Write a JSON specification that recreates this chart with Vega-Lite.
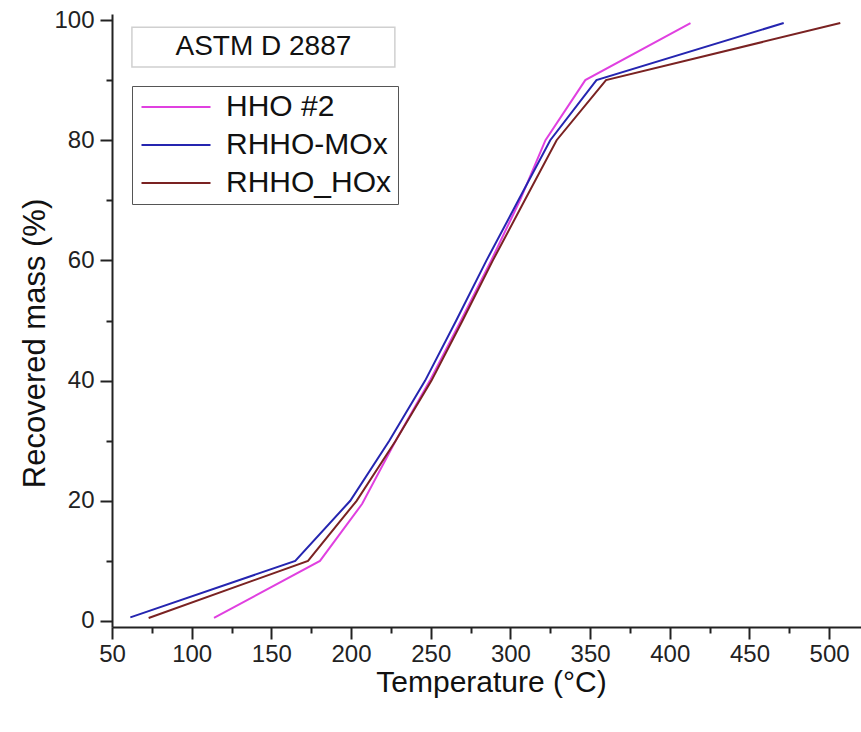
{
  "$schema": "https://vega.github.io/schema/vega-lite/v6.json",
  "width": 749,
  "height": 613,
  "autosize": "none",
  "padding": {"left": 112, "top": 14, "right": 0, "bottom": 105},
  "background": "white",
  "config": {
    "view": {"stroke": null},
    "font": "Liberation Sans",
    "axis": {
      "grid": false,
      "domainColor": "#222",
      "domainWidth": 2,
      "tickColor": "#222",
      "tickWidth": 2,
      "labelColor": "#222",
      "titleColor": "#111",
      "labelFont": "Liberation Sans",
      "titleFont": "Liberation Sans",
      "titleFontWeight": "normal"
    },
    "legend": {
      "labelFont": "Liberation Sans"
    }
  },
  "data": {
    "values": [
      {"sample": "HHO #2", "temp": 114, "mass": 0.5},
      {"sample": "HHO #2", "temp": 180.5, "mass": 10},
      {"sample": "HHO #2", "temp": 207, "mass": 19.5},
      {"sample": "HHO #2", "temp": 228, "mass": 30},
      {"sample": "HHO #2", "temp": 249.5, "mass": 40},
      {"sample": "HHO #2", "temp": 269, "mass": 50},
      {"sample": "HHO #2", "temp": 288, "mass": 60},
      {"sample": "HHO #2", "temp": 306, "mass": 70},
      {"sample": "HHO #2", "temp": 322, "mass": 80},
      {"sample": "HHO #2", "temp": 347, "mass": 90},
      {"sample": "HHO #2", "temp": 413, "mass": 99.5},
      {"sample": "RHHO-MOx", "temp": 61.5, "mass": 0.6},
      {"sample": "RHHO-MOx", "temp": 165, "mass": 10},
      {"sample": "RHHO-MOx", "temp": 199.5, "mass": 20},
      {"sample": "RHHO-MOx", "temp": 224, "mass": 30},
      {"sample": "RHHO-MOx", "temp": 246.5, "mass": 40},
      {"sample": "RHHO-MOx", "temp": 266, "mass": 50},
      {"sample": "RHHO-MOx", "temp": 285, "mass": 60},
      {"sample": "RHHO-MOx", "temp": 305, "mass": 70},
      {"sample": "RHHO-MOx", "temp": 325, "mass": 80},
      {"sample": "RHHO-MOx", "temp": 354, "mass": 90},
      {"sample": "RHHO-MOx", "temp": 471.5, "mass": 99.5},
      {"sample": "RHHO_HOx", "temp": 73, "mass": 0.5},
      {"sample": "RHHO_HOx", "temp": 173, "mass": 10},
      {"sample": "RHHO_HOx", "temp": 203.5, "mass": 20},
      {"sample": "RHHO_HOx", "temp": 228, "mass": 30},
      {"sample": "RHHO_HOx", "temp": 250.5, "mass": 40},
      {"sample": "RHHO_HOx", "temp": 270, "mass": 50},
      {"sample": "RHHO_HOx", "temp": 289, "mass": 60},
      {"sample": "RHHO_HOx", "temp": 309, "mass": 70},
      {"sample": "RHHO_HOx", "temp": 329, "mass": 80},
      {"sample": "RHHO_HOx", "temp": 360, "mass": 90},
      {"sample": "RHHO_HOx", "temp": 507, "mass": 99.5}
    ]
  },
  "resolve": {"axis": {"x": "independent", "y": "independent"}},
  "layer": [
    {
      "mark": {"type": "line", "strokeWidth": 2},
      "encoding": {
        "x": {
          "field": "temp", "type": "quantitative",
          "scale": {"domain": [50, 520], "nice": false, "zero": false},
          "axis": {
            "values": [50, 100, 150, 200, 250, 300, 350, 400, 450, 500],
            "tickSize": 12, "labelFontSize": 24, "labelPadding": 3,
            "labelFlush": false, "labelOverlap": false,
            "title": "Temperature (°C)", "titleFontSize": 30,
            "titleBaseline": "alphabetic", "titleY": 64, "titleX": 379
          }
        },
        "y": {
          "field": "mass", "type": "quantitative",
          "scale": {"domain": [-1, 101], "nice": false, "zero": false},
          "axis": {
            "values": [0, 20, 40, 60, 80, 100],
            "tickSize": 12, "labelFontSize": 24, "labelPadding": 6,
            "labelFlush": false, "labelOverlap": false,
            "title": "Recovered mass (%)", "titleFontSize": 31,
            "titleAngle": -90, "titleBaseline": "alphabetic",
            "titleAlign": "center", "titleX": -68, "titleY": 329
          }
        },
        "color": {
          "field": "sample", "type": "nominal",
          "scale": {
            "domain": ["HHO #2", "RHHO-MOx", "RHHO_HOx"],
            "range": ["#e040e0", "#2525b0", "#7a2222"]
          },
          "legend": {
            "orient": "none",
            "legendX": 20,
            "legendY": 72,
            "title": null,
            "labelFontSize": 30,
            "labelLimit": 0,
            "labelColor": "#111",
            "symbolType": "M-3,0H3",
            "symbolSize": 529,
            "symbolStrokeWidth": 2.2,
            "symbolOffset": 23,
            "labelOffset": 35,
            "rowPadding": 8,
            "padding": 6,
            "strokeColor": "#555",
            "fillColor": "white"
          }
        },
        "detail": {"field": "sample"}
      }
    },
    {
      "mark": {"type": "line", "opacity": 0},
      "encoding": {
        "x": {
          "field": "temp", "type": "quantitative",
          "axis": {
            "orient": "bottom",
            "values": [75, 125, 175, 225, 275, 325, 375, 425, 475],
            "tickSize": 6, "labels": false, "domain": false, "title": null
          }
        },
        "y": {
          "field": "mass", "type": "quantitative",
          "axis": {
            "orient": "left",
            "values": [10, 30, 50, 70, 90],
            "tickSize": 6, "labels": false, "domain": false, "title": null
          }
        },
        "detail": {"field": "sample"}
      }
    },
    {
      "data": {"values": [{"label": "ASTM D 2887"}]},
      "mark": {"type": "rect", "fill": "white", "stroke": "#d0d0d0", "strokeWidth": 1.5},
      "encoding": {
        "x": {"datum": 62.5, "type": "quantitative", "axis": null},
        "x2": {"datum": 227.5},
        "y": {"datum": 98.8, "type": "quantitative", "axis": null},
        "y2": {"datum": 92.2}
      }
    },
    {
      "data": {"values": [{"label": "ASTM D 2887"}]},
      "mark": {"type": "text", "fontSize": 28, "font": "Liberation Sans", "color": "#111", "align": "center", "baseline": "middle"},
      "encoding": {
        "x": {"datum": 145, "type": "quantitative", "axis": null},
        "y": {"datum": 95.5, "type": "quantitative", "axis": null},
        "text": {"field": "label"}
      }
    }
  ]
}
